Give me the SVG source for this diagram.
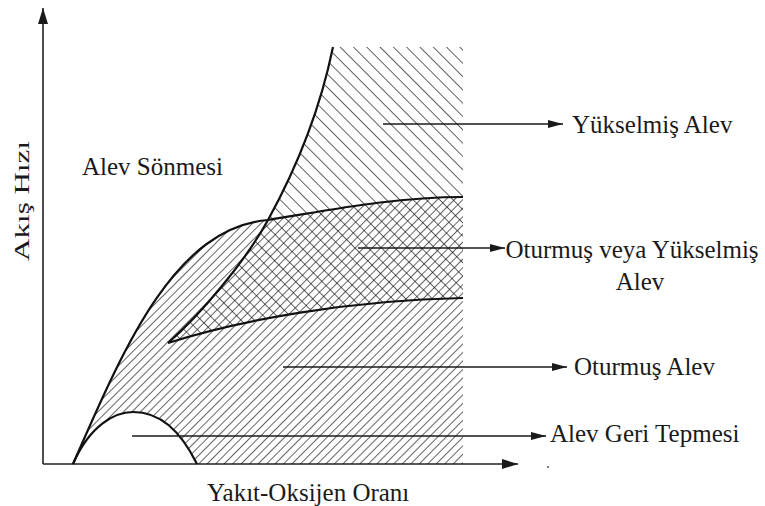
<svg xmlns="http://www.w3.org/2000/svg" width="765" height="506" viewBox="0 0 765 506">
  <style>
    text { font-family: 'Liberation Serif', 'Times New Roman', 'DejaVu Serif', serif; font-size: 25px; fill: #1a1a1a; }
    .curve { fill: none; stroke: #111; stroke-width: 2.2; stroke-linejoin: round; }
    .axis { fill: none; stroke: #222; stroke-width: 1.6; }
    .conn { fill: none; stroke: #1a1a1a; stroke-width: 1.5; }
    .hatch { stroke: #111; stroke-width: 1.3; }
  </style>
  <defs>
    <pattern id="hatchFwd" patternUnits="userSpaceOnUse" width="6" height="6" patternTransform="rotate(45)">
      <line class="hatch" x1="0" y1="-1" x2="0" y2="7"/>
    </pattern>
    <pattern id="hatchBack" patternUnits="userSpaceOnUse" width="9.4" height="9.4" patternTransform="rotate(-45)">
      <line class="hatch" x1="0" y1="-1" x2="0" y2="10.4"/>
    </pattern>
    <marker id="arrow" markerUnits="userSpaceOnUse" markerWidth="16" markerHeight="10" refX="15" refY="4.5" orient="auto">
      <path d="M0,0.5 L15,4.5 L0,8.5 Z" fill="#1a1a1a"/>
    </marker>
    <marker id="axisArrow" markerUnits="userSpaceOnUse" markerWidth="17" markerHeight="11" refX="16" refY="5" orient="auto">
      <path d="M0,0 L16,5 L0,10 Z" fill="#1a1a1a"/>
    </marker>
  </defs>

  <g id="axes">
    <line class="axis" x1="43" y1="464" x2="43" y2="8" marker-end="url(#axisArrow)"/>
    <line class="axis" x1="43" y1="464" x2="518" y2="464" marker-end="url(#axisArrow)"/>
  </g>

  <g id="region-oturmus">
    <path d="M73,464 C125,345 175,228 268,220 C320,212 390,197 463,197 L463,464 L197,464 C180,430 160,412 133,412 C115,412 90,425 73,464 Z" fill="url(#hatchFwd)"/>
  </g>
  <g id="region-yukselmis">
    <path d="M168,343 C200,315 245,262 268,220 C290,180 318,120 333,47 L463,47 L463,298 C350,300 240,320 168,343 Z" fill="url(#hatchBack)"/>
  </g>

  <g id="curves">
    <path class="curve" d="M73,464 C125,345 175,228 268,220 C320,212 390,197 463,197"/>
    <path class="curve" d="M168,343 C200,315 245,262 268,220 C290,180 318,120 333,47"/>
    <path class="curve" d="M168,343 C240,320 350,300 463,298"/>
    <path class="curve" d="M73,464 C90,425 115,412 133,412 C160,412 180,430 197,464"/>
  </g>

  <g id="connectors">
    <line class="conn" x1="383" y1="124" x2="563" y2="124" marker-end="url(#arrow)"/>
    <line class="conn" x1="358" y1="248" x2="505" y2="248" marker-end="url(#arrow)"/>
    <line class="conn" x1="283" y1="367" x2="567" y2="367" marker-end="url(#arrow)"/>
    <line class="conn" x1="132" y1="436" x2="546" y2="436" marker-end="url(#arrow)"/>
  </g>

  <g id="label-alev-sonmesi"><text x="82" y="175" font-family="Liberation Serif, serif">Alev Sönmesi</text></g>
  <g id="label-yukselmis-alev"><text x="572" y="133" font-family="Liberation Serif, serif">Yükselmiş Alev</text></g>
  <g id="label-oturmus-veya">
    <text x="632" y="258" text-anchor="middle" font-family="Liberation Serif, serif">Oturmuş veya Yükselmiş</text>
    <text x="640" y="290" text-anchor="middle" font-family="Liberation Serif, serif">Alev</text>
  </g>
  <g id="label-oturmus-alev"><text x="574" y="375" font-family="Liberation Serif, serif">Oturmuş Alev</text></g>
  <g id="label-geri-tepme"><text x="550" y="442" font-family="Liberation Serif, serif">Alev Geri Tepmesi</text></g>
  <g id="label-x-axis"><text x="207" y="501" font-family="Liberation Serif, serif">Yakıt-Oksijen Oranı</text></g>
  <g id="label-y-axis"><text transform="translate(29,201) rotate(-90)" text-anchor="middle" font-family="Liberation Serif, serif" style="font-size:21px" textLength="120" lengthAdjust="spacingAndGlyphs">Akış Hızı</text></g>
  <circle cx="548" cy="467" r="1" fill="#555"/>
</svg>
